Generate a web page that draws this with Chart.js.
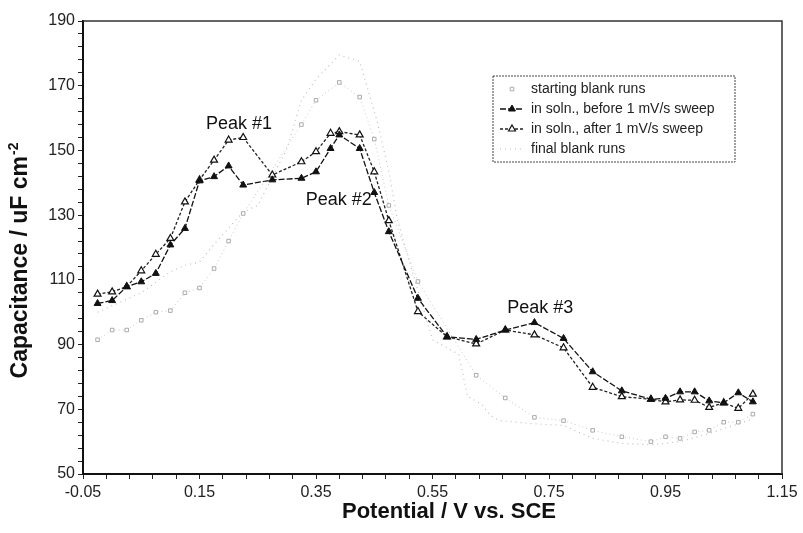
<!DOCTYPE html>
<html>
<head>
<meta charset="utf-8">
<script src="https://cdn.jsdelivr.net/npm/chart.js@4.4.1/dist/chart.umd.min.js"></script>
<style>
  html, body { margin: 0; padding: 0; background: #fff; }
  #wrap { width: 803px; height: 533px; }
</style>
</head>
<body>
<div id="wrap"><canvas id="chart" width="803" height="533"></canvas></div>
<script>
// potential (V vs. SCE) and capacitance (uF cm-2) per run
const startBlankV = [-0.025, 0, 0.025, 0.05, 0.075, 0.1, 0.125, 0.15, 0.175, 0.2, 0.225, 0.325, 0.35, 0.39, 0.425, 0.45, 0.475, 0.525, 0.625, 0.675, 0.725, 0.775, 0.825, 0.875, 0.925, 0.95, 0.975, 1.0, 1.025, 1.05, 1.075, 1.1];
const startBlankC = [91.5, 94.5, 94.5, 97.5, 100, 100.5, 106, 107.5, 113.5, 122, 130.5, 158, 165.5, 171, 166.5, 153.5, 133, 109.5, 80.5, 73.5, 67.5, 66.5, 63.5, 61.5, 60, 61.5, 61, 63, 63.5, 66, 66, 68.5];

const beforeV = [-0.025, 0, 0.025, 0.05, 0.075, 0.1, 0.125, 0.15, 0.175, 0.2, 0.225, 0.275, 0.325, 0.35, 0.375, 0.39, 0.425, 0.45, 0.475, 0.525, 0.575, 0.625, 0.675, 0.725, 0.775, 0.825, 0.875, 0.925, 0.95, 0.975, 1.0, 1.025, 1.05, 1.075, 1.1];
const beforeC = [102.7, 103.6, 107.9, 109.4, 112, 120.8, 125.9, 140.6, 141.9, 145.2, 139.3, 140.9, 141.4, 143.4, 150.6, 154.8, 150.6, 137, 124.9, 104.3, 92.4, 91.6, 94.5, 96.8, 91.9, 81.6, 75.7, 73.1, 73.4, 75.4, 75.4, 72.6, 72, 75.1, 72.3];

const afterV = [-0.025, 0, 0.025, 0.05, 0.075, 0.1, 0.125, 0.15, 0.175, 0.2, 0.225, 0.275, 0.325, 0.35, 0.375, 0.39, 0.425, 0.45, 0.475, 0.525, 0.575, 0.625, 0.675, 0.725, 0.775, 0.825, 0.875, 0.925, 0.95, 0.975, 1.0, 1.025, 1.05, 1.075, 1.1];
const afterC = [105.6, 106.3, 107.9, 112.8, 117.9, 122.8, 134.1, 140.9, 147, 153.2, 154, 142.4, 146.5, 149.6, 155.3, 155.8, 154.8, 143.4, 128.3, 100.2, 92.4, 90.2, 94.5, 93, 89, 76.8, 73.9, 73.1, 72.3, 72.9, 72.8, 70.6, 72, 70.3, 74.7];

const finalBlankV = [-0.025, 0.05, 0.1, 0.125, 0.15, 0.175, 0.225, 0.25, 0.3, 0.325, 0.35, 0.39, 0.425, 0.455, 0.475, 0.49, 0.505, 0.55, 0.595, 0.61, 0.635, 0.65, 0.665, 0.725, 0.775, 0.825, 0.875, 0.925, 0.975, 1.025, 1.075, 1.1];
const finalBlankC = [100, 106, 112.5, 114.5, 115.5, 121, 131, 133, 150.5, 165.5, 172, 179.5, 177.5, 159, 143.5, 128.5, 119, 91.5, 87, 74, 71.5, 68, 66.5, 65.5, 65, 61, 59.5, 59, 60, 62.5, 65.5, 67];

const seriesLabels = [
  'starting blank runs',
  'in soln., before 1 mV/s sweep',
  'in soln., after 1 mV/s sweep',
  'final blank runs'
];

const peakText = ['Peak #1', 'Peak #2', 'Peak #3'];
const peakAtV = [0.218, 0.389, 0.735];
const peakAtC = [158.3, 134.8, 101.4];

const xTitle = 'Potential / V vs. SCE';
const yTitle = 'Capacitance / uF cm';
const yTitleSup = '-2';

const xMin = -0.05, xMax = 1.15, xMajor = 0.2;
const yMin = 50, yMax = 190, yMajor = 20;
const minorPerMajor = 5;

const FONT = "'Liberation Sans', Arial, sans-serif";

function zip(xs, ys) {
  return xs.map((x, i) => ({ x: x, y: ys[i] }));
}

function buildTicks(min, max, major) {
  const step = major / minorPerMajor;
  const n = Math.round((max - min) / step);
  const out = [];
  for (let i = 0; i <= n; i++) {
    out.push({ value: +(min + i * step).toFixed(4) });
  }
  return out;
}

// frame, axis titles, peak captions and the boxed legend
const decorations = {
  id: 'decorations',
  afterDatasetsDraw(chart) {
    const ctx = chart.ctx;
    const a = chart.chartArea;
    const xs = chart.scales.x, ys = chart.scales.y;

    ctx.save();
    ctx.strokeStyle = '#333';
    ctx.lineWidth = 1.5;
    ctx.beginPath();
    ctx.moveTo(a.left, a.top);
    ctx.lineTo(a.right, a.top);
    ctx.lineTo(a.right, a.bottom);
    ctx.stroke();

    // axis titles, sat a little right of / below the plot centre
    ctx.fillStyle = '#111';
    ctx.textBaseline = 'middle';
    ctx.font = 'bold 22px ' + FONT;
    ctx.textAlign = 'left';
    ctx.fillText(xTitle, 342, 512);

    ctx.save();
    ctx.translate(21, 261);
    ctx.rotate(-Math.PI / 2);
    ctx.font = 'bold 23px ' + FONT;
    const mainW = ctx.measureText(yTitle).width;
    ctx.font = 'bold 14px ' + FONT;
    const supW = ctx.measureText(yTitleSup).width;
    const x0 = -(mainW + supW) / 2;
    ctx.font = 'bold 23px ' + FONT;
    ctx.fillText(yTitle, x0, 0);
    ctx.font = 'bold 14px ' + FONT;
    ctx.fillText(yTitleSup, x0 + mainW + 1, -7);
    ctx.restore();

    ctx.font = '18px ' + FONT;
    ctx.textAlign = 'center';
    peakText.forEach((t, i) => {
      ctx.fillText(t, xs.getPixelForValue(peakAtV[i]), ys.getPixelForValue(peakAtC[i]));
    });

    // legend
    const bx = 493, by = 76, bw = 242, rowH = 20;
    const sampleL = 500, sampleR = 524, textX = 531;
    const bh = rowH * 4 + 6;
    ctx.fillStyle = '#fff';
    ctx.fillRect(bx, by, bw, bh);
    ctx.setLineDash([2, 1]);
    ctx.lineWidth = 1;
    ctx.strokeStyle = '#444';
    ctx.strokeRect(bx, by, bw, bh);

    ctx.font = '14px ' + FONT;
    ctx.textAlign = 'left';
    chart.data.datasets.forEach((ds, i) => {
      const cy = by + 3 + rowH * (i + 0.5);
      if (ds.legendLine) {
        ctx.setLineDash(ds.borderDash || []);
        ctx.strokeStyle = ds.borderColor;
        ctx.lineWidth = ds.borderWidth;
        ctx.beginPath();
        ctx.moveTo(sampleL, cy);
        ctx.lineTo(sampleR, cy);
        ctx.stroke();
      }
      ctx.setLineDash([]);
      if (ds.pointRadius > 0) {
        ctx.fillStyle = ds.pointBackgroundColor;
        ctx.strokeStyle = ds.pointBorderColor;
        ctx.lineWidth = ds.pointBorderWidth;
        Chart.helpers.drawPoint(ctx, {
          pointStyle: ds.pointStyle,
          radius: ds.pointRadius,
          borderWidth: ds.pointBorderWidth
        }, (sampleL + sampleR) / 2, cy);
      }
      ctx.fillStyle = '#222';
      ctx.fillText(ds.label, textX, cy + 0.5);
    });
    ctx.restore();
  }
};

const datasets = [
  {
    label: seriesLabels[0],
    data: zip(startBlankV, startBlankC),
    showLine: true,
    borderColor: '#c8c8c8',
    borderWidth: 1,
    borderDash: [1, 3],
    pointStyle: 'rect',
    pointRadius: 2.5,
    pointBorderWidth: 1,
    pointBackgroundColor: '#fff',
    pointBorderColor: '#aaa',
    legendLine: false
  },
  {
    label: seriesLabels[1],
    data: zip(beforeV, beforeC),
    showLine: true,
    borderColor: '#111',
    borderWidth: 1.3,
    borderDash: [6, 2],
    pointStyle: 'triangle',
    pointRadius: 4,
    pointBorderWidth: 1,
    pointBackgroundColor: '#111',
    pointBorderColor: '#111',
    legendLine: true
  },
  {
    label: seriesLabels[2],
    data: zip(afterV, afterC),
    showLine: true,
    borderColor: '#222',
    borderWidth: 1.3,
    borderDash: [3, 2],
    pointStyle: 'triangle',
    pointRadius: 4,
    pointBorderWidth: 1.2,
    pointBackgroundColor: '#fff',
    pointBorderColor: '#111',
    legendLine: true
  },
  {
    label: seriesLabels[3],
    data: zip(finalBlankV, finalBlankC),
    showLine: true,
    borderColor: '#c0c0c0',
    borderWidth: 1.2,
    borderDash: [1, 4],
    pointStyle: 'circle',
    pointRadius: 0,
    pointBackgroundColor: '#bbb',
    pointBorderColor: '#bbb',
    legendLine: true
  }
];

new Chart(document.getElementById('chart'), {
  type: 'scatter',
  data: { datasets: datasets },
  options: {
    responsive: false,
    animation: false,
    events: [],
    layout: { padding: { top: 21, right: 21, left: 0, bottom: 0 } },
    plugins: {
      legend: { display: false },
      tooltip: { enabled: false }
    },
    scales: {
      x: {
        type: 'linear',
        min: xMin,
        max: xMax,
        afterBuildTicks: s => { s.ticks = buildTicks(xMin, xMax, xMajor); },
        afterFit: s => { s.height = 59; },
        grid: { drawOnChartArea: false, tickLength: 5, color: '#222', tickWidth: 1 },
        border: { color: '#111', width: 2 },
        ticks: {
          autoSkip: false,
          maxRotation: 0,
          padding: 4,
          color: '#222',
          font: { family: FONT, size: 16 },
          callback: (v, i) => (i % minorPerMajor === 0 ? v.toFixed(2) : '')
        },
        title: { display: false }
      },
      y: {
        type: 'linear',
        min: yMin,
        max: yMax,
        afterBuildTicks: s => { s.ticks = buildTicks(yMin, yMax, yMajor); },
        afterFit: s => { s.width = 83; },
        grid: { drawOnChartArea: false, tickLength: 5, color: '#222', tickWidth: 1 },
        border: { color: '#111', width: 2 },
        ticks: {
          autoSkip: false,
          padding: 3,
          color: '#222',
          font: { family: FONT, size: 16 },
          callback: (v, i) => (i % minorPerMajor === 0 ? String(Math.round(v)) : '')
        },
        title: { display: false }
      }
    }
  },
  plugins: [decorations]
});
</script>
</body>
</html>
